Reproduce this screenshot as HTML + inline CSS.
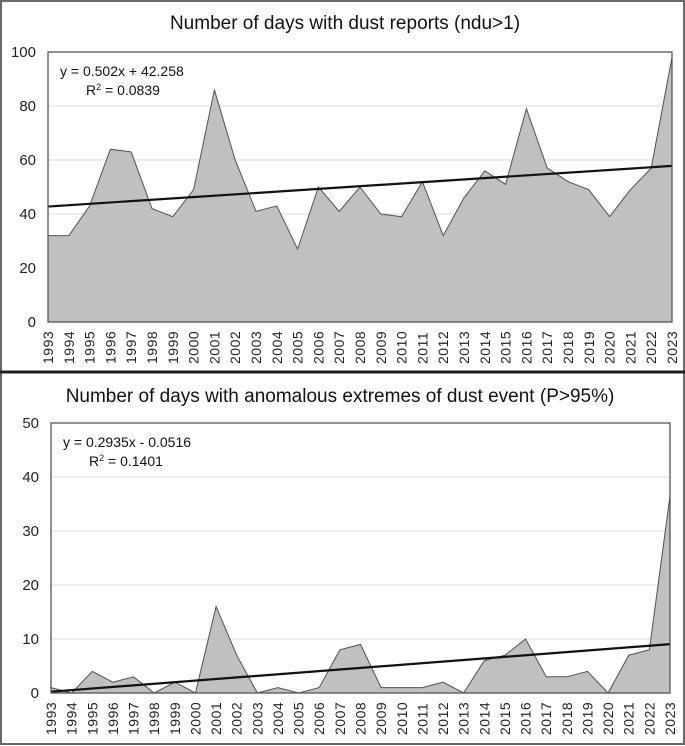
<!DOCTYPE html>
<html><head><meta charset="utf-8"><style>
body{margin:0;background:#fff;}
svg{display:block;font-family:"Liberation Sans",sans-serif;}
</style></head><body>
<svg id="c" width="685" height="746" viewBox="0 0 685 746">
<rect x="1" y="1" width="683" height="743" fill="#fff" stroke="#6a6a6a" stroke-width="2"/>
<line x1="0" y1="372" x2="685" y2="372" stroke="#222" stroke-width="3"/>
</svg>
<script>
const years = [1993,1994,1995,1996,1997,1998,1999,2000,2001,2002,2003,2004,2005,2006,2007,2008,2009,2010,2011,2012,2013,2014,2015,2016,2017,2018,2019,2020,2021,2022,2023];
const ndu = [32,32,43,64,63,42,39,49,86,60,41,43,27,50,41,50,40,39,52,32,46,56,51,79,57,52,49,39,49,57,98];
const extremes = [1,0,4,2,3,0,2,0,16,7,0,1,0,1,8,9,1,1,1,2,0,6,7,10,3,3,4,0,7,8,36.5];
const ticksTop = [0,20,40,60,80,100];
const ticksBot = [0,10,20,30,40,50];
const trendTop = [0.502, 42.258];
const trendBot = [0.2935, -0.0516];

const svg = document.getElementById('c');
const NS = 'http://www.w3.org/2000/svg';
function mk(tag, attrs, parent){const e=document.createElementNS(NS,tag);for(const k in attrs)e.setAttribute(k,attrs[k]);(parent||svg).appendChild(e);return e;}

function panel(o){
  const g = mk('g',{});
  
  
  const x = i => o.x0 + (o.x1-o.x0)*i/(years.length-1);
  const y = v => o.y1 - (o.y1-o.y0)*v/o.max;
  const t = mk('text',{x:(o.tx),y:o.ty,'text-anchor':'middle','font-size':'19',fill:'#111'},g);
  t.textContent = o.title;
  
  
  o.ticks.forEach(v=>{
    if(v>0&&v<o.max){const gl=mk('line',{x1:o.x0,x2:o.x1,y1:y(v),y2:y(v),stroke:'#dcdcdc','stroke-width':1},g);
      
      }
    const tl=mk('text',{x:o.x0-12,y:y(v)+5,'text-anchor':'end','font-size':'15',fill:'#222'},g);
    tl.textContent=v;
    
    
  });
  let d='M'+x(0)+','+y(0);
  o.data.forEach((v,i)=>{d+=' L'+x(i)+','+y(v);});
  d+=' L'+x(o.data.length-1)+','+y(0)+' Z';
  const a=mk('path',{d:d,fill:'#c0c0c0',stroke:'#505050','stroke-width':1},g);
  
  
  const n=years.length;
  const tr=mk('line',{x1:x(0),y1:y(o.trend[0]*1+o.trend[1]),x2:x(n-1),y2:y(o.trend[0]*n+o.trend[1]),stroke:'#111','stroke-width':2.2},g);
  
  
  const b=mk('rect',{x:o.x0,y:o.y0,width:o.x1-o.x0,height:o.y1-o.y0,fill:'none',stroke:'#555','stroke-width':1.3},g);
  
  
  years.forEach((yr,i)=>{
    const l=mk('text',{transform:'translate('+(x(i)+5)+','+(o.y1+42)+') rotate(-90)','font-size':'14',fill:'#222','letter-spacing':'0.5'},g);
    l.textContent=yr;
    
    
  });
  const e1=mk('text',{x:o.x0+12,y:o.y0+24,'font-size':'14',fill:'#111'},g);
  e1.textContent=o.eq;
  
  
  const e2=mk('text',{x:o.x0+38,y:o.y0+43,'font-size':'14',fill:'#111'},g);
  e2.innerHTML='R<tspan dy="-5" font-size="9">2</tspan><tspan dy="5"> = '+o.r2+'</tspan>';
  
  
}
panel({name:'top-chart',title:'Number of days with dust reports (ndu>1)',tx:345,ty:29,x0:48,x1:672,y0:52,y1:322,max:100,ticks:ticksTop,data:ndu,trend:trendTop,eq:'y = 0.502x + 42.258',r2:'0.0839'});
panel({name:'bottom-chart',title:'Number of days with anomalous extremes of dust event (P>95%)',tx:340,ty:402,x0:51,x1:670,y0:423,y1:693,max:50,ticks:ticksBot,data:extremes,trend:trendBot,eq:'y = 0.2935x - 0.0516',r2:'0.1401'});
</script>
</body></html>
